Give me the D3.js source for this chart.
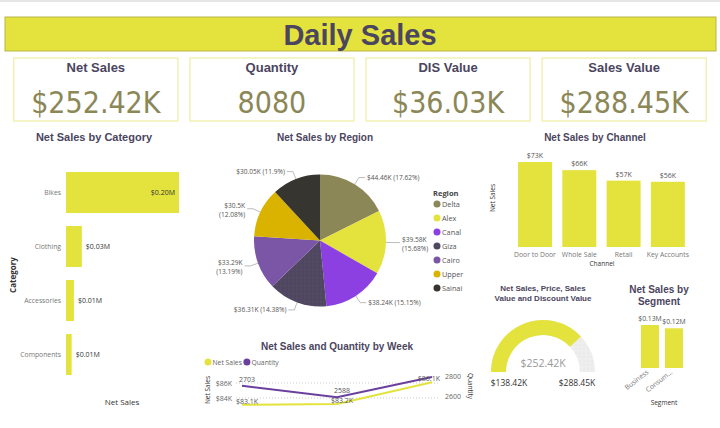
<!DOCTYPE html>
<html><head><meta charset="utf-8">
<script src="https://cdn.jsdelivr.net/npm/d3@7"></script>
<style>body{margin:0;background:#fff} svg{display:block}</style>
</head><body><svg id="c" width="720" height="428"></svg>
<script>
// ---------- data ----------
const kpiLabels = ["Net Sales", "Quantity", "DIS Value", "Sales Value"];
const kpiValues = ["$252.42K", "8080", "$36.03K", "$288.45K"];
const categories = ["Bikes", "Clothing", "Accessories", "Components"];
const categorySales = [200000, 28000, 14000, 10000];
const regions = ["Delta", "Alex", "Canal", "Giza", "Cairo", "Upper", "Sainai"];
const regionSales = [44460, 39580, 38240, 36310, 33290, 30500, 30050];
const regionPct = ["17.62%", "15.68%", "15.15%", "14.38%", "13.19%", "12.08%", "11.9%"];
const channels = ["Door to Door", "Whole Sale", "Retail", "Key Accounts"];
const channelSales = [73000, 66000, 57000, 56000];
const segments = ["Business", "Consum..."];
const segmentSales = [131000, 121000];
const weeks = ["Week 1", "Week 2", "Week 3"];
const weekSales = [83100, 83200, 86100];
const weekQty = [2703, 2588, 2789];
const gaugeMin = 138420, gaugeValue = 252420, gaugeMax = 288450;

// ---------- style ----------
const YEL = "#e4e33d", TITLE = "#4b4560", KPI = "#8b8757";
const regionColors = ["#8b8756", "#e4e33d", "#8c40e2", "#4f4660", "#7b56a6", "#d9b300", "#36352f"];
const PURPLE = "#6a3f9e";
const FONT = "'Open Sans','Noto Sans',sans-serif";
const BOLD = "'Liberation Sans',Arial,sans-serif";

const svg = d3.select("#c");
const defs = svg.append("defs");
const dots = (id, bg, fg) => {
  const p = defs.append("pattern").attr("id", id).attr("width", 4).attr("height", 4).attr("patternUnits", "userSpaceOnUse");
  p.append("rect").attr("width", 4).attr("height", 4).attr("fill", bg);
  p.append("circle").attr("cx", 1).attr("cy", 1).attr("r", 0.5).attr("fill", fg);
};
dots("gizaDots", "#4f4660", "#6b6380");
dots("gaugeDots", "#eeeeee", "#d8d8d8");

svg.append("rect").attr("x", 0).attr("y", 0).attr("width", 720).attr("height", 2).attr("fill", "#e6e6e6");

// ---------- banner ----------
svg.append("rect").attr("x", 5).attr("y", 17).attr("width", 711).attr("height", 34)
  .attr("fill", YEL).attr("stroke", "#b8b64a").attr("stroke-width", 1);
svg.append("text").attr("x", 360).attr("y", 45).attr("text-anchor", "middle")
  .attr("font-family", BOLD).attr("font-weight", "bold").attr("font-size", 29).attr("fill", TITLE)
  .text("Daily Sales");

// ---------- KPI cards ----------
const cardX = d3.scaleBand().domain(kpiLabels).range([8.5, 711.5]).paddingInner(0.068).paddingOuter(0.03);
const cards = svg.selectAll("g.card").data(kpiLabels).join("g").attr("class", "card")
  .attr("transform", d => `translate(${cardX(d)},58)`);
cards.append("rect").attr("width", cardX.bandwidth()).attr("height", 63)
  .attr("fill", "#fff").attr("stroke", "#efed9e").attr("stroke-width", 1.2);
cards.append("text").attr("x", cardX.bandwidth() / 2).attr("y", 14).attr("text-anchor", "middle")
  .attr("font-family", BOLD).attr("font-weight", "bold").attr("font-size", 13).attr("fill", TITLE).text(d => d);
cards.append("text").attr("x", cardX.bandwidth() / 2).attr("y", 55).attr("text-anchor", "middle")
  .attr("font-family", "'DejaVu Sans Condensed','Liberation Sans Narrow','Roboto',sans-serif")
  .attr("font-stretch", "condensed").attr("font-size", 30).attr("fill", KPI)
  .text((d, i) => kpiValues[i]);

const title = (x, y, t, size) => svg.append("text").attr("x", x).attr("y", y).attr("text-anchor", "middle")
  .attr("font-family", BOLD).attr("font-weight", "bold").attr("font-size", size).attr("fill", TITLE).text(t);
const small = (x, y, t, opts = {}) => svg.append("text").attr("x", x).attr("y", y)
  .attr("text-anchor", opts.anchor || "middle").attr("font-family", FONT)
  .attr("font-size", opts.size || 7).attr("fill", opts.fill || "#444")
  .attr("font-weight", opts.weight || "normal")
  .attr("transform", opts.rotate ? `rotate(${opts.rotate},${x},${y})` : null).text(t);

// ---------- Net Sales by Category ----------
title(94, 141, "Net Sales by Category", 11);
const yC = d3.scaleBand().domain(categories).range([165.5, 381.5]).paddingInner(0.24).paddingOuter(0.12);
const xC = d3.scaleLinear().domain([0, 200000]).range([66, 179]);
svg.selectAll("rect.cat").data(categories).join("rect").attr("class", "cat")
  .attr("x", xC(0)).attr("y", d => yC(d)).attr("height", yC.bandwidth())
  .attr("width", (d, i) => xC(categorySales[i]) - xC(0)).attr("fill", YEL);
categories.forEach((c, i) => {
  const cy = yC(c) + yC.bandwidth() / 2 + 2.5;
  small(61, cy, c, { anchor: "end", fill: "#777", size: 6.8 });
  const inside = xC(categorySales[i]) - xC(0) > 60;
  small(inside ? xC(categorySales[i]) - 4 : xC(categorySales[i]) + 4, cy,
    "$" + (categorySales[i] / 1e6).toFixed(2) + "M", { anchor: inside ? "end" : "start", fill: "#333" });
});
small(16, 275, "Category", { rotate: -90, fill: "#333", weight: "bold", size: 8 });
small(122, 405, "Net Sales", { fill: "#333", size: 8 });

// ---------- Net Sales by Region ----------
title(325, 141, "Net Sales by Region", 10);
const pcx = 320, pcy = 240.5, R = 66;
const pie = d3.pie().sort(null).value(d => d)(regionSales);
const arc = d3.arc().innerRadius(0).outerRadius(R);
const pg = svg.append("g").attr("transform", `translate(${pcx},${pcy})`);
pg.selectAll("path").data(pie).join("path").attr("d", arc)
  .attr("fill", (d, i) => i === 3 ? "url(#gizaDots)" : regionColors[i]);
const fmtK = v => "$" + (+(v / 1000).toFixed(2)) + "K";
pie.forEach((d, i) => {
  const a = (d.startAngle + d.endAngle) / 2;
  const s = Math.sin(a), c = -Math.cos(a);
  const p0 = [R * s, R * c], p1 = [(R + 8) * s, (R + 8) * c];
  const dir = s >= 0 ? 1 : -1;
  const p2 = [p1[0] + dir * 6, p1[1]];
  pg.append("polyline").attr("points", [p0, p1, p2].map(p => p.join(",")).join(" "))
    .attr("fill", "none").attr("stroke", "#aaa").attr("stroke-width", 0.8);
  const lx = p2[0] + dir * 2, anchor = dir > 0 ? "start" : "end";
  const t1 = fmtK(regionSales[i]), t2 = "(" + regionPct[i] + ")";
  if (Math.abs(s) > 0.8) {
    small(pcx + lx, pcy + p2[1] - 1, t1, { anchor, fill: "#555", size: 6.6 });
    small(pcx + lx, pcy + p2[1] + 8, t2, { anchor, fill: "#555", size: 6.6 });
  } else {
    small(pcx + lx, pcy + p2[1] + 2.5, t1 + " " + t2, { anchor, fill: "#555", size: 6.6 });
  }
});
small(433, 196, "Region", { anchor: "start", weight: "bold", fill: "#444", size: 7.5 });
const legY = d3.scalePoint().domain(regions).range([204, 288]);
regions.forEach((r, i) => {
  svg.append("circle").attr("cx", 437).attr("cy", legY(r)).attr("r", 3.5).attr("fill", regionColors[i]);
  small(442, legY(r) + 2.5, r, { anchor: "start", fill: "#555", size: 7.3 });
});

// ---------- Net Sales by Channel ----------
title(595, 141, "Net Sales by Channel", 10);
const xCh = d3.scaleBand().domain(channels).range([512.7, 690.2]).paddingInner(0.233).paddingOuter(0.12);
const yCh = d3.scaleLinear().domain([0, 73000]).range([247, 162]);
svg.selectAll("rect.ch").data(channels).join("rect").attr("class", "ch")
  .attr("x", d => xCh(d)).attr("width", xCh.bandwidth())
  .attr("y", (d, i) => yCh(channelSales[i])).attr("height", (d, i) => yCh(0) - yCh(channelSales[i]))
  .attr("fill", YEL);
channels.forEach((c, i) => {
  const cx = xCh(c) + xCh.bandwidth() / 2;
  small(cx, yCh(channelSales[i]) - 4, "$" + Math.round(channelSales[i] / 1000) + "K", { fill: "#555" });
  small(cx, 256.5, c, { fill: "#777", size: 6.8 });
});
small(602, 266, "Channel", { fill: "#333", size: 6.5 });
small(495, 198, "Net Sales", { rotate: -90, fill: "#333", size: 6.5 });

// ---------- Gauge ----------
title(543, 291, "Net Sales, Price, Sales", 8);
title(543, 301, "Value and Discount Value", 8);
const gS = d3.scaleLinear().domain([gaugeMin, gaugeMax]).range([-Math.PI / 2, Math.PI / 2]);
const gArc = d3.arc().innerRadius(37).outerRadius(52);
const gg = svg.append("g").attr("transform", "translate(543,372)");
gg.append("path").attr("d", gArc({ startAngle: gS(gaugeMin), endAngle: gS(gaugeMax) })).attr("fill", "url(#gaugeDots)");
gg.append("path").attr("d", gArc({ startAngle: gS(gaugeMin), endAngle: gS(gaugeValue) })).attr("fill", YEL);
small(543, 367, fmtK(gaugeValue), { fill: "#999", size: 10.5 });
small(509, 386, fmtK(gaugeMin), { fill: "#333", size: 8.5 });
small(577, 386, fmtK(gaugeMax), { fill: "#333", size: 8.5 });

// ---------- Segment ----------
title(659, 293, "Net Sales by", 10);
title(659, 305, "Segment", 10);
const xS = d3.scaleBand().domain(segments).range([635, 689]).paddingInner(0.25).paddingOuter(0.25);
const yS = d3.scaleLinear().domain([0, 131000]).range([368, 325]);
svg.selectAll("rect.seg").data(segments).join("rect").attr("class", "seg")
  .attr("x", d => xS(d)).attr("width", xS.bandwidth())
  .attr("y", (d, i) => yS(segmentSales[i])).attr("height", (d, i) => yS(0) - yS(segmentSales[i]))
  .attr("fill", YEL);
segments.forEach((s, i) => {
  const cx = xS(s) + xS.bandwidth() / 2;
  small(cx, yS(segmentSales[i]) - 4, "$" + (segmentSales[i] / 1e6).toFixed(2) + "M", { fill: "#555", size: 6.8 });
  small(cx - 1, 373, s, { anchor: "end", rotate: -38, fill: "#777", size: 6.8 });
});
small(664, 405, "Segment", { fill: "#333", size: 6.5 });

// ---------- Week ----------
title(337, 350, "Net Sales and Quantity by Week", 10);
svg.append("circle").attr("cx", 208).attr("cy", 362).attr("r", 3.5).attr("fill", YEL);
const leg1 = small(212.5, 364.5, "Net Sales", { anchor: "start", fill: "#666", size: 6.8 });
const qx = 212.5 + leg1.node().getComputedTextLength() + 5;
svg.append("circle").attr("cx", qx).attr("cy", 362).attr("r", 3.5).attr("fill", PURPLE);
small(qx + 4.5, 364.5, "Quantity", { anchor: "start", fill: "#666", size: 6.8 });
const xW = d3.scalePoint().domain(weeks).range([242, 432]);
const yWL = d3.scaleLinear().domain([84000, 86000]).range([398, 383]);
const yWR = d3.scaleLinear().domain([2600, 2800]).range([396, 376]);
[84000, 86000].forEach(t => {
  svg.append("line").attr("x1", 236).attr("x2", 440).attr("y1", yWL(t)).attr("y2", yWL(t))
    .attr("stroke", "#ccc").attr("stroke-dasharray", "1,2");
  small(232, yWL(t) + 2.5, "$" + t / 1000 + "K", { anchor: "end", fill: "#666" });
});
[2600, 2800].forEach(t => small(445, yWR(t) + 2.5, t, { anchor: "start", fill: "#666" }));
small(210, 390, "Net Sales", { rotate: -90, fill: "#333", size: 6.5 });
small(468, 386, "Quantity", { rotate: 90, fill: "#333", size: 6.5 });
svg.append("path").attr("d", d3.line().x((d, i) => xW(weeks[i])).y(d => yWL(d))(weekSales))
  .attr("fill", "none").attr("stroke", YEL).attr("stroke-width", 2);
svg.append("path").attr("d", d3.line().x((d, i) => xW(weeks[i])).y(d => yWR(d))(weekQty))
  .attr("fill", "none").attr("stroke", PURPLE).attr("stroke-width", 2);
const plotRight = 440;
weeks.forEach((w, i) => {
  const q = small(xW(w) + 5, yWR(weekQty[i]) - 4, weekQty[i], { fill: "#555" });
  const qw = q.node().getComputedTextLength();
  if (xW(w) + 5 + qw / 2 > plotRight) q.remove();   // hidden like the source: no room inside the plot
  const sl = small(xW(w) + 5, yWL(weekSales[i]) - 1, "$" + (weekSales[i] / 1000).toFixed(1) + "K", { fill: "#555" });
  const sw = sl.node().getComputedTextLength();
  if (xW(w) + 5 + sw / 2 > plotRight) sl.attr("x", plotRight - sw / 2);
});
</script></body></html>
